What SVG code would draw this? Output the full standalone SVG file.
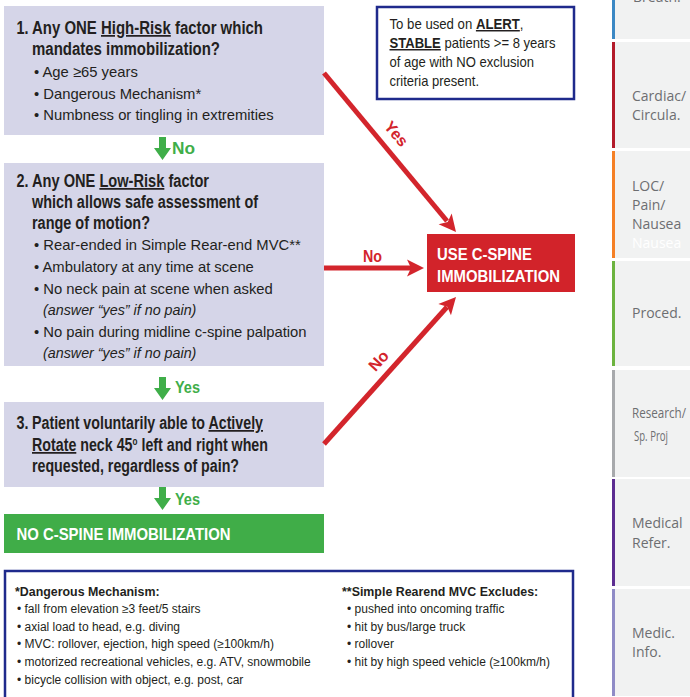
<svg xmlns="http://www.w3.org/2000/svg" width="690" height="697" viewBox="0 0 690 697">
<style>
.box{fill:#d5d5e8}
.t{font-family:"Liberation Sans",Arial,sans-serif;fill:#231f20}
.b{font-weight:bold;font-size:17.5px}
.r{font-size:14.8px}
.i{font-style:italic;font-size:14.3px}
.s{font-size:12px}
.sb{font-size:12.4px;font-weight:bold}
.u{text-decoration:underline}
.w{fill:#fff;font-weight:bold;font-size:16.5px}
.gl{fill:#3fae49;font-weight:bold;font-size:16px}
.rl{fill:#d3252c;font-weight:bold;font-size:16px}
.tab{fill:#f1f2f2}
.tt{font-family:"Open Sans","Noto Sans",sans-serif;font-size:14px;fill:#6d6e71}
.ga{fill:#3fae49}
.ra{fill:#d3252c}
.rline{stroke:#d3252c;stroke-width:5;fill:none}
.nav{fill:#fff;stroke:#1f2a8c;stroke-width:2.5}
</style>

<g id="tabs">
<g id="tab-breath"><rect class="tab" x="612" y="-10" width="78" height="49"/><rect x="612" y="-10" width="3" height="49" fill="#3b88c4"/><text class="tt" x="633" y="2">Breath.</text></g>
<g id="tab-cardiac"><rect class="tab" x="612" y="42" width="78" height="106"/><rect x="612" y="42" width="3" height="106" fill="#b31b2a"/><text class="tt" x="632" y="101">Cardiac/</text><text class="tt" x="632" y="120">Circula.</text></g>
<g id="tab-loc"><rect class="tab" x="612" y="151" width="78" height="107"/><rect x="612" y="151" width="3" height="107" fill="#f58025"/><text class="tt" x="632" y="191">LOC/</text><text class="tt" x="632" y="210">Pain/</text><text class="tt" x="632" y="229">Nausea</text><text class="tt" x="632" y="248" style="fill:#fff">Nausea</text></g>
<g id="tab-proced"><rect class="tab" x="612" y="261" width="78" height="105"/><rect x="612" y="261" width="3" height="105" fill="#6cb33f"/><text class="tt" x="632" y="318">Proced.</text></g>
<g id="tab-research"><rect class="tab" x="612" y="370" width="78" height="107"/><rect x="612" y="370" width="3" height="107" fill="#a7a9ac"/><text class="tt" x="632" y="418" font-size="13.5" textLength="54" lengthAdjust="spacingAndGlyphs">Research/</text><text class="tt" x="634" y="441" font-size="13.5" textLength="34" lengthAdjust="spacingAndGlyphs">Sp. Proj</text></g>
<g id="tab-medref"><rect class="tab" x="612" y="479" width="78" height="107"/><rect x="612" y="479" width="3" height="107" fill="#5c2d91"/><text class="tt" x="632" y="528">Medical</text><text class="tt" x="632" y="548">Refer.</text></g>
<g id="tab-medinfo"><rect class="tab" x="612" y="589" width="78" height="107"/><rect x="612" y="589" width="3" height="107" fill="#8f8bc6"/><text class="tt" x="632" y="638">Medic.</text><text class="tt" x="632" y="657">Info.</text></g>
</g>

<g id="q1">
<rect class="box" x="4" y="6" width="320" height="129"/>
<text class="t b" x="16.5" y="34" textLength="12" lengthAdjust="spacingAndGlyphs">1.</text>
<text class="t b" x="32" y="34" textLength="231" lengthAdjust="spacingAndGlyphs">Any ONE <tspan class="u">High-Risk</tspan> factor which</text>
<text class="t b" x="32" y="55" textLength="188" lengthAdjust="spacingAndGlyphs">mandates immobilization?</text>
<text class="t r" x="34" y="77">• Age ≥65 years</text>
<text class="t r" x="34" y="99">• Dangerous Mechanism*</text>
<text class="t r" x="34" y="120">• Numbness or tingling in extremities</text>
</g>

<g id="q2">
<rect class="box" x="4" y="163" width="320" height="203"/>
<text class="t b" x="16.5" y="187" textLength="12" lengthAdjust="spacingAndGlyphs">2.</text>
<text class="t b" x="32" y="187" textLength="177" lengthAdjust="spacingAndGlyphs">Any ONE <tspan class="u">Low-Risk</tspan> factor</text>
<text class="t b" x="32" y="208" textLength="226" lengthAdjust="spacingAndGlyphs">which allows safe assessment of</text>
<text class="t b" x="32" y="229" textLength="118" lengthAdjust="spacingAndGlyphs">range of motion?</text>
<text class="t r" x="34" y="250">• Rear-ended in Simple Rear-end MVC**</text>
<text class="t r" x="34" y="272">• Ambulatory at any time at scene</text>
<text class="t r" x="34" y="294">• No neck pain at scene when asked</text>
<text class="t i" x="43" y="315">(answer “yes” if no pain)</text>
<text class="t r" x="34" y="337">• No pain during midline c-spine palpation</text>
<text class="t i" x="43" y="358">(answer “yes” if no pain)</text>
</g>

<g id="q3">
<rect class="box" x="4" y="402" width="320" height="85"/>
<text class="t b" x="16.5" y="429" textLength="12" lengthAdjust="spacingAndGlyphs">3.</text>
<text class="t b" x="32" y="429" textLength="231" lengthAdjust="spacingAndGlyphs">Patient voluntarily able to <tspan class="u">Actively</tspan></text>
<text class="t b" x="32" y="451" textLength="236" lengthAdjust="spacingAndGlyphs"><tspan class="u">Rotate</tspan> neck 45<tspan font-size="10" dy="-6">o</tspan><tspan dy="6"> left and right when</tspan></text>
<text class="t b" x="32" y="472" textLength="207" lengthAdjust="spacingAndGlyphs">requested, regardless of pain?</text>
</g>

<g id="no-immob">
<rect x="4" y="514" width="320" height="39" fill="#40ad48"/>
<text class="t w" x="16.5" y="540" textLength="214" lengthAdjust="spacingAndGlyphs">NO C-SPINE IMMOBILIZATION</text>
</g>

<g id="use-immob">
<rect x="427" y="234" width="148" height="58" fill="#d2232a"/>
<text class="t w" x="437" y="260" textLength="95" lengthAdjust="spacingAndGlyphs">USE C-SPINE</text>
<text class="t w" x="437" y="282" textLength="123" lengthAdjust="spacingAndGlyphs">IMMOBILIZATION</text>
</g>

<g id="criteria-note">
<rect class="nav" x="377" y="7" width="197" height="92"/>
<text class="t r" x="389.5" y="29" textLength="134" lengthAdjust="spacingAndGlyphs">To be used on <tspan font-weight="bold" class="u">ALERT</tspan>,</text>
<text class="t r" x="389.5" y="48" textLength="166" lengthAdjust="spacingAndGlyphs"><tspan font-weight="bold" class="u">STABLE</tspan> patients &gt;= 8 years</text>
<text class="t r" x="389.5" y="67" textLength="144.5" lengthAdjust="spacingAndGlyphs">of age with NO exclusion</text>
<text class="t r" x="389.5" y="86" textLength="89.5" lengthAdjust="spacingAndGlyphs">criteria present.</text>
</g>

<g id="footnotes">
<rect class="nav" x="5" y="571" width="568" height="140" stroke-width="2"/>
<text class="t sb" x="15" y="596">*Dangerous Mechanism:</text>
<text class="t s" x="17" y="613">• fall from elevation ≥3 feet/5 stairs</text>
<text class="t s" x="17" y="631">• axial load to head, e.g. diving</text>
<text class="t s" x="17" y="648">• MVC: rollover, ejection, high speed (≥100km/h)</text>
<text class="t s" x="17" y="666">• motorized recreational vehicles, e.g. ATV, snowmobile</text>
<text class="t s" x="17" y="684">• bicycle collision with object, e.g. post, car</text>
<text class="t sb" x="342" y="596">**Simple Rearend MVC Excludes:</text>
<text class="t s" x="347" y="613">• pushed into oncoming traffic</text>
<text class="t s" x="347" y="631">• hit by bus/large truck</text>
<text class="t s" x="347" y="648">• rollover</text>
<text class="t s" x="347" y="666">• hit by high speed vehicle (≥100km/h)</text>
</g>

<g id="connectors">
<polygon class="ga" points="159,137 166,137 166,148 171,148 162.5,160 154,148 159,148"/>
<text class="t gl" x="172" y="154" textLength="23" lengthAdjust="spacingAndGlyphs">No</text>
<polygon class="ga" points="159,377 166,377 166,388 171,388 162.5,400 154,388 159,388"/>
<text class="t gl" x="175" y="393" textLength="25" lengthAdjust="spacingAndGlyphs">Yes</text>
<polygon class="ga" points="159,487 166,487 166,498 171,498 162.5,510 154,498 159,498"/>
<text class="t gl" x="175" y="505" textLength="25" lengthAdjust="spacingAndGlyphs">Yes</text>

<line class="rline" x1="324" y1="73" x2="447" y2="221"/>
<polygon class="ra" points="456,232 438.6,224.35 447.7,222 451.68,213.49"/>
<text class="t rl" x="396" y="139" text-anchor="middle" transform="rotate(50 396 134)">Yes</text>

<line class="rline" x1="324" y1="268" x2="412" y2="268"/>
<polygon class="ra" points="424,268 407,259.5 411,268 407,276.5"/>
<text class="t rl" x="363" y="262" textLength="19" lengthAdjust="spacingAndGlyphs">No</text>

<line class="rline" x1="324" y1="444" x2="447" y2="307"/>
<polygon class="ra" points="456,297 450.96,315.33 447.32,306.67 438.32,303.97"/>
<text class="t rl" x="379" y="366" text-anchor="middle" transform="rotate(-48 379 361)">No</text>
</g>
</svg>
